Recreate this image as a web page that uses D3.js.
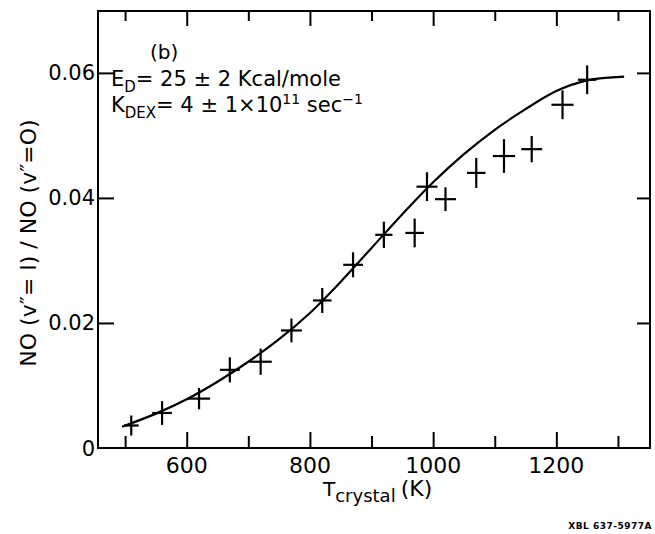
<!DOCTYPE html>
<html>
<head>
<meta charset="utf-8">
<script src="https://cdn.jsdelivr.net/npm/d3@7"></script>
<style>
  html, body { margin: 0; padding: 0; background: #fff; }
  svg { display: block; }
  text { font-family: "DejaVu Sans", "Liberation Sans", sans-serif; fill: #000; }
</style>
</head>
<body>
<svg id="chart" width="655" height="534"></svg>
<script>
// ---------- data ----------
const tempK = [510, 560, 620, 670, 720, 770, 820, 870, 920, 970, 990, 1020, 1070, 1115, 1160, 1210, 1250];
const ratio = [0.0036, 0.0056, 0.0079, 0.0125, 0.0138, 0.0188, 0.0236, 0.0293, 0.0341, 0.0344, 0.0418, 0.0398, 0.0440, 0.0467, 0.0478, 0.0549, 0.0589];
const tempErr = [12, 16, 18, 16, 18, 17, 15, 16, 14, 15, 17, 17, 15, 18, 17, 18, 15];
const ratioErr = [0.0016, 0.0019, 0.0017, 0.0020, 0.0021, 0.0019, 0.0020, 0.0020, 0.0021, 0.0023, 0.0023, 0.0019, 0.0024, 0.0027, 0.0021, 0.0023, 0.0023];

const fitT = [495, 550, 600, 650, 700, 750, 800, 850, 900, 950, 1000, 1050, 1100, 1150, 1200, 1250, 1310];
const fitV = [0.0034, 0.0055, 0.0078, 0.0106, 0.0138, 0.0174, 0.0216, 0.0266, 0.0320, 0.0374, 0.0425, 0.0470, 0.0509, 0.0542, 0.0571, 0.0588, 0.0594];

const xMajorTicks = [600, 800, 1000, 1200];
const xMinorTicks = [500, 700, 900, 1100, 1300];
const yTicks = [0.02, 0.04, 0.06];
const yTickLabels = ["0", "0.02", "0.04", "0.06"];

// ---------- layout ----------
const svg = d3.select("#chart");
const L = 98, R = 650, T = 11, B = 448;
const x = d3.scaleLinear().domain([456, 1352]).range([L, R]);
const y = d3.scaleLinear().domain([0, 0.0699]).range([B, T]);

const g = svg.append("g");

// frame
g.append("rect").attr("x", L).attr("y", T).attr("width", R - L).attr("height", B - T)
  .attr("fill", "none").attr("stroke", "#000").attr("stroke-width", 2);

// bottom axis (ticks inward)
const xAxisMajor = d3.axisTop(x).tickValues(xMajorTicks).tickSize(16).tickFormat("");
const xAxisMinor = d3.axisTop(x).tickValues(xMinorTicks).tickSize(12).tickFormat("");
[xAxisMajor, xAxisMinor].forEach(ax => {
  const a = g.append("g").attr("transform", `translate(0,${B})`).call(ax);
  a.select(".domain").remove();
  a.selectAll("line").attr("stroke", "#000").attr("stroke-width", 2);
});
// top axis (ticks inward)
const xTopMajor = d3.axisBottom(x).tickValues(xMajorTicks).tickSize(15).tickFormat("");
const xTopMinor = d3.axisBottom(x).tickValues(xMinorTicks).tickSize(10).tickFormat("");
[xTopMajor, xTopMinor].forEach(ax => {
  const a = g.append("g").attr("transform", `translate(0,${T})`).call(ax);
  a.select(".domain").remove();
  a.selectAll("line").attr("stroke", "#000").attr("stroke-width", 2);
});
// left axis ticks inward
const yLeft = g.append("g").attr("transform", `translate(${L},0)`)
  .call(d3.axisRight(y).tickValues(yTicks).tickSize(16).tickFormat(""));
yLeft.select(".domain").remove();
yLeft.selectAll("line").attr("stroke", "#000").attr("stroke-width", 2);
// right axis ticks inward
const yRight = g.append("g").attr("transform", `translate(${R},0)`)
  .call(d3.axisLeft(y).tickValues(yTicks).tickSize(13).tickFormat(""));
yRight.select(".domain").remove();
yRight.selectAll("line").attr("stroke", "#000").attr("stroke-width", 2);

// tick labels
g.selectAll(".xlab").data(xMajorTicks).enter().append("text")
  .attr("x", d => x(d)).attr("y", 473)
  .attr("text-anchor", "middle").attr("font-size", 22)
  .text(d => d);
g.selectAll(".ylab").data([0].concat(yTicks)).enter().append("text")
  .attr("x", 95).attr("y", d => y(d) + 7.5)
  .attr("text-anchor", "end").attr("font-size", 21)
  .text((d, i) => yTickLabels[i]);

// axis titles
const xt = g.append("text").attr("x", 323).attr("y", 496).attr("font-size", 20);
xt.append("tspan").text("T");
xt.append("tspan").attr("font-size", 18).attr("dy", 6).text("crystal");
xt.append("tspan").attr("font-size", 22).attr("dy", -6).attr("dx", 5).text("(K)");

g.append("text")
  .attr("transform", "translate(36,243) rotate(-90)")
  .attr("text-anchor", "middle").attr("font-size", 22)
  .text("NO (v\u2033= I) / NO (v\u2033=O)");

// annotations
g.append("text").attr("x", 150).attr("y", 59).attr("font-size", 20).text("(b)");
const a1 = g.append("text").attr("x", 111).attr("y", 86).attr("font-size", 21);
a1.append("tspan").text("E");
a1.append("tspan").attr("font-size", 15).attr("dy", 6).text("D");
a1.append("tspan").attr("dy", -6).text("= 25 \u00b1 2 Kcal/mole");
const a2 = g.append("text").attr("x", 111).attr("y", 112).attr("font-size", 21);
a2.append("tspan").text("K");
a2.append("tspan").attr("font-size", 15).attr("dy", 6).text("DEX");
a2.append("tspan").attr("dy", -6).text("= 4 \u00b1 1\u00d710");
a2.append("tspan").attr("font-size", 14).attr("dy", -8).text("11");
a2.append("tspan").attr("dy", 8).text(" sec");
a2.append("tspan").attr("font-size", 14).attr("dy", -8).text("\u22121");

// fit curve
const line = d3.line().x(d => x(d[0])).y(d => y(d[1])).curve(d3.curveCatmullRom);
g.append("path").datum(fitT.map((t, i) => [t, fitV[i]]))
  .attr("d", line).attr("fill", "none").attr("stroke", "#000").attr("stroke-width", 2.2);

// data crosses (error bars)
const pts = tempK.map((t, i) => ({ t, v: ratio[i], dt: tempErr[i], dv: ratioErr[i] }));
const cross = g.selectAll(".pt").data(pts).enter().append("g");
cross.append("line")
  .attr("x1", d => x(d.t - d.dt)).attr("x2", d => x(d.t + d.dt))
  .attr("y1", d => y(d.v)).attr("y2", d => y(d.v))
  .attr("stroke", "#000").attr("stroke-width", 2.2);
cross.append("line")
  .attr("x1", d => x(d.t)).attr("x2", d => x(d.t))
  .attr("y1", d => y(d.v - d.dv)).attr("y2", d => y(d.v + d.dv))
  .attr("stroke", "#000").attr("stroke-width", 2.2);

// figure id
svg.append("text").attr("x", 652).attr("y", 529).attr("text-anchor", "end")
  .attr("font-size", 9).attr("font-weight", "bold").attr("letter-spacing", 0.5)
  .text("XBL 637-5977A");
</script>
</body>
</html>
